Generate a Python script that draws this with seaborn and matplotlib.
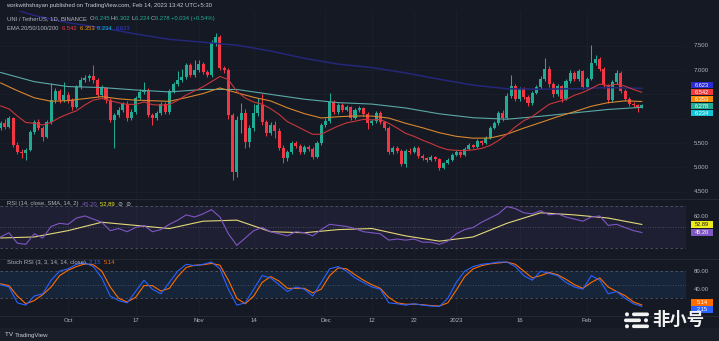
import numpy as np
import pandas as pd
import matplotlib
matplotlib.use("Agg")
import matplotlib.pyplot as plt
from matplotlib.patches import Rectangle, FancyBboxPatch, Circle
import seaborn as sns

# ---------------------------------------------------------------- data
dates = pd.date_range("2022-09-15", "2023-02-14", freq="D")

opens = [5.809, 5.912, 5.830, 6.014, 5.460, 5.316, 5.296, 5.357, 5.727, 5.932,
         5.809, 5.624, 5.932, 6.384, 6.569, 6.384, 6.487, 6.384, 6.240, 6.651,
         6.795, 6.836, 6.877, 6.795, 6.487, 6.630, 6.384, 5.973, 6.076, 6.179,
         6.302, 6.014, 6.138, 6.425, 6.548, 6.589, 6.076, 6.014, 6.117, 6.302,
         6.138, 6.569, 6.713, 6.795, 6.856, 7.103, 6.897, 7.000, 7.123, 6.959,
         6.897, 7.554, 7.678, 7.041, 7.000, 6.076, 4.906, 5.973, 6.117, 5.522,
         5.809, 6.117, 6.281, 5.932, 5.706, 5.871, 5.747, 5.398, 5.193, 5.316,
         5.501, 5.439, 5.316, 5.419, 5.378, 5.214, 5.501, 5.871, 5.952, 6.343,
         6.138, 6.281, 6.179, 6.240, 6.014, 6.179, 6.220, 6.097, 5.912, 5.952,
         6.117, 5.932, 5.809, 5.316, 5.398, 5.337, 5.070, 5.337, 5.316, 5.398,
         5.234, 5.193, 5.152, 5.214, 5.173, 4.988, 5.090, 5.152, 5.255, 5.316,
         5.255, 5.378, 5.460, 5.419, 5.542, 5.501, 5.604, 5.809, 5.912, 6.117,
         6.014, 6.466, 6.671, 6.405, 6.610, 6.446, 6.322, 6.528, 6.651, 6.815,
         7.021, 6.713, 6.507, 6.671, 6.405, 6.774, 6.938, 6.815, 6.979, 6.651,
         6.815, 7.144, 7.226, 7.021, 6.692, 6.384, 6.754, 6.938, 6.569, 6.405,
         6.302, 6.281, 6.245]
closes = [5.912, 5.830, 6.014, 5.460, 5.316, 5.296, 5.357, 5.727, 5.932, 5.809,
          5.624, 5.932, 6.384, 6.569, 6.384, 6.487, 6.384, 6.240, 6.651, 6.795,
          6.836, 6.877, 6.795, 6.487, 6.630, 6.384, 5.973, 6.076, 6.179, 6.302,
          6.014, 6.138, 6.425, 6.548, 6.589, 6.076, 6.014, 6.117, 6.302, 6.138,
          6.569, 6.713, 6.795, 6.856, 7.103, 6.897, 7.000, 7.123, 6.959, 6.897,
          7.554, 7.678, 7.041, 7.000, 6.076, 4.906, 5.973, 6.117, 5.522, 5.809,
          6.117, 6.281, 5.932, 5.706, 5.871, 5.747, 5.398, 5.193, 5.316, 5.501,
          5.439, 5.316, 5.419, 5.378, 5.214, 5.501, 5.871, 5.952, 6.343, 6.138,
          6.281, 6.179, 6.240, 6.014, 6.179, 6.220, 6.097, 5.912, 5.952, 6.117,
          5.932, 5.809, 5.316, 5.398, 5.337, 5.070, 5.337, 5.316, 5.398, 5.234,
          5.193, 5.152, 5.214, 5.173, 4.988, 5.090, 5.152, 5.255, 5.316, 5.255,
          5.378, 5.460, 5.419, 5.542, 5.501, 5.604, 5.809, 5.912, 6.117, 6.014,
          6.466, 6.671, 6.405, 6.610, 6.446, 6.322, 6.528, 6.651, 6.815, 7.021,
          6.713, 6.507, 6.671, 6.405, 6.774, 6.938, 6.815, 6.979, 6.651, 6.815,
          7.144, 7.226, 7.021, 6.692, 6.384, 6.754, 6.938, 6.569, 6.405, 6.302,
          6.281, 6.244, 6.278]
highs = [5.96, 5.99, 6.06, 6.04, 5.52, 5.38, 5.40, 5.77, 5.98, 5.99,
         5.85, 5.97, 6.73, 6.64, 6.62, 6.75, 6.54, 6.43, 6.70, 6.86,
         6.90, 6.92, 7.10, 6.83, 6.69, 6.66, 6.42, 6.12, 6.23, 6.35,
         6.36, 6.19, 6.47, 6.60, 6.75, 6.63, 6.12, 6.16, 6.35, 6.34,
         6.62, 6.76, 6.98, 7.02, 7.15, 7.14, 7.20, 7.21, 7.17, 7.00,
         7.62, 7.76, 7.72, 7.09, 7.04, 6.12, 6.05, 6.32, 6.19, 5.88,
         6.31, 6.42, 6.50, 5.98, 5.93, 5.96, 5.80, 5.45, 5.36, 5.55,
         5.55, 5.49, 5.46, 5.45, 5.41, 5.55, 5.92, 6.01, 6.52, 6.38,
         6.33, 6.32, 6.29, 6.27, 6.22, 6.26, 6.25, 6.13, 5.99, 6.16,
         6.15, 5.96, 5.84, 5.44, 5.43, 5.37, 5.38, 5.40, 5.44, 5.43,
         5.27, 5.22, 5.25, 5.24, 5.20, 5.12, 5.19, 5.29, 5.35, 5.34,
         5.41, 5.50, 5.49, 5.58, 5.57, 5.64, 5.85, 5.96, 6.16, 6.17,
         6.52, 6.90, 6.72, 6.66, 6.65, 6.48, 6.57, 6.70, 6.87, 7.25,
         7.08, 6.75, 6.72, 6.70, 6.82, 6.99, 6.98, 7.03, 7.01, 6.86,
         7.51, 7.30, 7.27, 7.06, 6.72, 6.80, 7.00, 6.97, 6.60, 6.44,
         6.34, 6.31, 6.302]
lows = [5.76, 5.79, 5.80, 5.42, 5.27, 5.19, 5.15, 5.33, 5.69, 5.77,
        5.55, 5.60, 5.90, 6.33, 6.33, 6.35, 6.33, 6.18, 6.21, 6.60,
        6.75, 6.78, 6.74, 6.44, 6.45, 6.32, 5.93, 5.40, 6.03, 6.14,
        5.96, 5.97, 6.10, 6.39, 6.50, 6.03, 5.87, 5.97, 6.08, 6.09,
        6.10, 6.53, 6.67, 6.75, 6.82, 6.85, 6.86, 6.95, 6.91, 6.85,
        6.86, 7.50, 6.99, 6.94, 6.00, 4.74, 4.80, 5.70, 5.40, 5.42,
        5.75, 6.05, 5.88, 5.65, 5.66, 5.60, 5.36, 5.10, 5.13, 5.28,
        5.40, 5.27, 5.28, 5.33, 5.17, 5.19, 5.47, 5.83, 5.92, 6.09,
        6.10, 6.14, 6.15, 5.97, 5.99, 6.14, 6.06, 5.79, 5.88, 5.92,
        5.89, 5.77, 5.27, 5.28, 5.30, 5.03, 5.00, 5.27, 5.29, 5.20,
        5.16, 5.12, 5.13, 5.14, 4.95, 4.97, 5.06, 5.13, 5.23, 5.22,
        5.24, 5.35, 5.39, 5.40, 5.47, 5.48, 5.58, 5.78, 5.88, 5.96,
        5.99, 6.42, 6.36, 6.37, 6.40, 6.27, 6.29, 6.50, 6.62, 6.78,
        6.66, 6.45, 6.47, 6.35, 6.38, 6.74, 6.77, 6.78, 6.60, 6.62,
        6.79, 7.10, 6.98, 6.64, 6.33, 6.35, 6.72, 6.52, 6.36, 6.26,
        6.23, 6.13, 6.224]

# moving averages, sampled every 2nd / 4th / 8th session
ema20 = [6.263, 6.202, 6.054, 5.922, 5.906, 5.871, 5.925, 6.024, 6.098, 6.163,
         6.282, 6.382, 6.414, 6.370, 6.326, 6.295, 6.294, 6.344, 6.289, 6.276,
         6.292, 6.376, 6.487, 6.571, 6.656, 6.762, 6.867, 6.803, 6.560, 6.423,
         6.341, 6.297, 6.206, 6.089, 5.938, 5.853, 5.765, 5.679, 5.682, 5.768,
         5.849, 5.914, 5.948, 5.986, 5.976, 5.984, 5.905, 5.807, 5.699, 5.638,
         5.560, 5.492, 5.417, 5.364, 5.350, 5.344, 5.361, 5.390, 5.449, 5.552,
         5.679, 5.833, 5.958, 6.044, 6.170, 6.295, 6.349, 6.394, 6.481, 6.540,
         6.621, 6.711, 6.678, 6.709, 6.668, 6.600, 6.542]
ema50 = [6.736, 6.575, 6.429, 6.358, 6.372, 6.412, 6.453, 6.408, 6.381, 6.369,
         6.357, 6.433, 6.516, 6.631, 6.533, 6.439, 6.365, 6.223, 6.104, 6.015,
         6.040, 6.056, 6.054, 6.013, 5.906, 5.814, 5.712, 5.638, 5.600, 5.603,
         5.682, 5.807, 5.922, 6.040, 6.144, 6.256, 6.330, 6.366, 6.353]
ema100 = [6.95, 6.76, 6.66, 6.64, 6.59, 6.55, 6.60, 6.60, 6.50, 6.40,
          6.33, 6.30, 6.22, 6.10, 6.02, 5.99, 6.05, 6.12, 6.19, 6.234]
ema200 = [8.33, 8.12, 7.97, 7.87, 7.74, 7.63, 7.57, 7.51, 7.39, 7.24,
          7.12, 7.05, 6.94, 6.81, 6.69, 6.615, 6.606, 6.615, 6.639, 6.623]

# RSI(14) every 2nd session and its 14-period SMA every 8th session
rsi = [41, 45, 35, 34, 44, 40, 51, 54, 53, 59,
       61, 58, 55, 47, 49, 46, 50, 52, 46, 48,
       53, 57, 62, 60, 63, 67, 60, 44, 33, 40,
       47, 50, 46, 44, 42, 46, 45, 42, 48, 53,
       52, 51, 49, 46, 45, 44, 38, 39, 38, 39,
       36, 36, 34, 37, 44, 48, 50, 55, 59, 63,
       70, 68, 64, 63, 66, 62, 63, 60, 58, 56,
       60, 61, 52, 53, 50, 47, 45.20]
rsi_ma = [40, 41, 47, 55, 52, 49, 56, 57, 46, 45,
          48, 49, 42, 37, 41, 54, 64, 62, 59, 52.89]

# Stoch RSI (3, 3, 14, 14) %K and %D every 2nd session
stoch_k = [50, 45, 10, 5, 25, 30, 60, 80, 85, 95,
           98, 90, 65, 25, 15, 10, 35, 60, 40, 30,
           55, 80, 95, 92, 95, 100, 85, 40, 5, 10,
           40, 70, 65, 50, 35, 45, 40, 25, 55, 85,
           90, 80, 65, 55, 45, 40, 10, 8, 5, 8,
           5, 3, 2, 20, 55, 80, 90, 95, 97, 100,
           100, 90, 70, 60, 80, 75, 70, 55, 45, 40,
           70, 60, 30, 35, 20, 8, 2.15]
stoch_d = [52, 48, 25, 8, 15, 28, 45, 70, 82, 90,
           96, 94, 80, 45, 20, 12, 22, 48, 48, 36,
           42, 68, 88, 93, 94, 97, 93, 60, 20, 8,
           25, 55, 68, 58, 42, 42, 42, 32, 40, 70,
           87, 85, 72, 60, 50, 42, 22, 10, 7, 7,
           6, 4, 3, 10, 38, 68, 85, 92, 96, 98,
           100, 95, 80, 65, 70, 77, 72, 62, 50, 42,
           55, 65, 45, 35, 26, 12, 5.14]

tick_dates = ["2022-10-01", "2022-10-17", "2022-11-01", "2022-11-14", "2022-12-01",
              "2022-12-12", "2022-12-22", "2023-01-01", "2023-01-16", "2023-02-01"]
tick_labels = ["Oct", "17", "Nov", "14", "Dec", "12", "22", "2023", "16", "Feb"]
price_ticks = [7.5, 7.0, 6.5, 6.0, 5.5, 5.0, 4.5]

# ---------------------------------------------------------------- style
W, H = 719, 341
BG = "#151924"
GRID = "#1c202b"
TXT = "#b2b5be"
UP, DN = "#22ab94", "#f23645"
C_E20, C_E50, C_E100, C_E200 = "#c8373c", "#d9862e", "#5aa9a7", "#24277a"
C_RSI, C_RSIMA = "#7e57c2", "#e3d878"
C_K, C_D = "#2962ff", "#ff6d00"

sns.set_theme(style="dark", rc={
    "axes.facecolor": BG, "figure.facecolor": BG, "savefig.facecolor": BG,
    "axes.edgecolor": BG, "axes.grid": False,
})
plt.rcParams["font.family"] = ["Liberation Sans", "DejaVu Sans", "Noto Sans CJK SC"]

fig = plt.figure(figsize=(W / 100, H / 100), dpi=100)

pos = np.arange(len(dates))
date_pos = {d.strftime("%Y-%m-%d"): i for i, d in enumerate(dates)}
XLIM = (-0.12, 162.44)


def pane(top, bottom, left=0, right=686):
    ax = fig.add_axes([left / W, 1 - bottom / H, (right - left) / W, (bottom - top) / H])
    ax.set_facecolor(BG)
    for s in ax.spines.values():
        s.set_visible(False)
    return ax


ax_main = pane(11, 198)
ax_rsi = pane(199, 258)
ax_st = pane(258.5, 315)

tick_pos = [date_pos[d] for d in tick_dates]
for ax in (ax_main, ax_rsi, ax_st):
    for p in tick_pos:
        ax.axvline(p, color=GRID, lw=0.6, zorder=0)
for p in price_ticks:
    ax_main.axhline(p, color=GRID, lw=0.6, zorder=0)

# ---------------------------------------------------------------- candles
o, c = np.array(opens), np.array(closes)
h, l = np.array(highs), np.array(lows)
col = np.where(c >= o, UP, DN)
ax_main.vlines(pos, l, h, colors=col, lw=0.75, zorder=3)
ax_main.bar(pos, np.maximum(np.abs(c - o), 0.02), bottom=np.minimum(o, c),
            width=0.72, color=col, lw=0, zorder=4)

for vals, step, color, lw in ((ema200, 8, C_E200, 1.1), (ema100, 8, C_E100, 0.8),
                              (ema50, 4, C_E50, 0.8), (ema20, 2, C_E20, 0.8)):
    sns.lineplot(x=pos[::step], y=vals, ax=ax_main, color=color, linewidth=lw,
                 legend=False, zorder=5)

# ---------------------------------------------------------------- RSI pane
ax_rsi.axhspan(30, 70, color="#7e57c2", alpha=0.10, lw=0, zorder=0)
for lvl, ls in ((70, (0, (3, 3))), (50, (0, (1, 2))), (30, (0, (3, 3)))):
    ax_rsi.axhline(lvl, color="#787b86", lw=0.6, ls=ls, alpha=0.6, zorder=1)
sns.lineplot(x=pos[::8], y=rsi_ma, ax=ax_rsi, color=C_RSIMA, linewidth=0.8, legend=False, zorder=3)
sns.lineplot(x=pos[::2], y=rsi, ax=ax_rsi, color=C_RSI, linewidth=0.8, legend=False, zorder=4)

# ---------------------------------------------------------------- Stoch RSI pane
ax_st.axhspan(20, 80, color="#2196f3", alpha=0.10, lw=0, zorder=0)
for lvl, ls in ((80, (0, (3, 3))), (50, (0, (1, 2))), (20, (0, (3, 3)))):
    ax_st.axhline(lvl, color="#787b86", lw=0.6, ls=ls, alpha=0.6, zorder=1)
sns.lineplot(x=pos[::2], y=stoch_d, ax=ax_st, color=C_D, linewidth=0.8, legend=False, zorder=3)
sns.lineplot(x=pos[::2], y=stoch_k, ax=ax_st, color=C_K, linewidth=0.8, legend=False, zorder=4)

ax_main.set_ylim(4.3717, 8.2115)
ax_rsi.set_ylim(20.95, 77.14)
ax_st.set_ylim(-16.8, 107.8)
for ax in (ax_main, ax_rsi, ax_st):
    ax.set_xlim(*XLIM)
    ax.set_xticks([])
    ax.set_yticks([])
    ax.set_xlabel("")
    ax.set_ylabel("")

# ---------------------------------------------------------------- overlay (pixel units)
ov = fig.add_axes([0, 0, 1, 1], zorder=20)
ov.set_xlim(0, W)
ov.set_ylim(H, 0)
ov.axis("off")
ov.patch.set_alpha(0)
renderer = fig.canvas.get_renderer()

# pane separators and bottom bar
for y in (198.5, 258.5, 315.5):
    ov.plot([0, W], [y, y], color="#262a36", lw=0.7)
ov.add_patch(Rectangle((0, 327.5), W, H - 327.5, color="#1a1e29", lw=0))


def ypx(ax, v):
    return H - ax.transData.transform((0, v))[1]


def xpx(ax, v):
    return ax.transData.transform((v, 0))[0]


def segments(x, y, parts, size=4.2):
    for txt, color in parts:
        t = ov.text(x, y, txt, color=color, fontsize=size, ha="left", va="center")
        x += t.get_window_extent(renderer).width


def stacked(ys, gap):
    ys = np.asarray(ys, float)
    order = np.argsort(ys)
    s = ys[order].copy()
    for k in range(1, len(s)):
        s[k] = max(s[k], s[k - 1] + gap)
    s += ys.mean() - s.mean()
    out = ys.copy()
    out[order] = s
    return out


TAG_H = 6.6


def tag(y, text, bg, fg="white", x0=691, w=22, size=4.1):
    ov.add_patch(Rectangle((x0, y - TAG_H / 2), w, TAG_H, color=bg, lw=0, zorder=5))
    ov.text(x0 + w / 2, y + 0.2, text, color=fg, fontsize=size, ha="center",
            va="center", zorder=6)


def scale_labels(ax, values, fmt, tag_ys):
    # a scale label hidden under a value tag is left out, as on the live chart
    for v in values:
        y = ypx(ax, v)
        if any(abs(y - ty) < TAG_H for ty in tag_ys):
            continue
        ov.text(701, y, fmt.format(v), color=TXT, fontsize=4.3, ha="center", va="center")


# last-value tags
main_tags = [(ema200[-1], "#2b2bd4", "white"), (ema20[-1], "#ef3b3b", "white"),
             (ema50[-1], "#f98b0c", "white"), (closes[-1], UP, "white"),
             (ema100[-1], "#14c3d6", "white")]
main_ys = stacked([ypx(ax_main, v) for v, _, _ in main_tags], 7.0)
for y, (v, bg, fg) in zip(main_ys, main_tags):
    tag(y, f"{v:.3f}", bg, fg)

rsi_tags = [(rsi_ma[-1], "#ecea1c", "#131722"), (rsi[-1], C_RSI, "white")]
rsi_ys = stacked([ypx(ax_rsi, v) for v, _, _ in rsi_tags], 7.0)
for y, (v, bg, fg) in zip(rsi_ys, rsi_tags):
    tag(y, f"{v:.2f}", bg, fg)

st_tags = [(stoch_d[-1], C_D, "white"), (stoch_k[-1], C_K, "white")]
st_ys = stacked([ypx(ax_st, v) for v, _, _ in st_tags], 7.0)
for y, (v, bg, fg) in zip(st_ys, st_tags):
    tag(y, f"{v:.2f}", bg, fg)

# price-scale labels
scale_labels(ax_main, price_ticks, "{:.3f}", main_ys)
scale_labels(ax_rsi, (60, 40), "{:.2f}", rsi_ys)
scale_labels(ax_st, (80, 40), "{:.2f}", st_ys)

# time-scale labels
for p, lab in zip(tick_pos, tick_labels):
    ov.text(xpx(ax_main, p), 321, lab, color=TXT, fontsize=4.3, ha="center", va="center")

# legends
segments(6, 5, [("workwithshayan published on TradingView.com, Feb 14, 2023 13:42 UTC+5:30", "#c9ccd3")])
chg = closes[-1] - closes[-2]
segments(7, 18.5, [("UNI / TetherUS, 1D, BINANCE  ", TXT),
                   ("O", TXT), (f"{opens[-1]:.3f} ", UP),
                   ("H", TXT), (f"{highs[-1]:.3f} ", UP),
                   ("L", TXT), (f"{lows[-1]:.3f} ", UP),
                   ("C", TXT), (f"{closes[-1]:.3f} ", UP),
                   (f"+{chg:.3f} (+{chg / closes[-2] * 100:.2f}%)", UP)])
segments(7, 29, [("EMA 20/50/100/200  ", TXT), (f"{ema20[-1]:.3f}  ", "#f23645"),
                 (f"{ema50[-1]:.3f}  ", "#ff9800"), (f"{ema100[-1]:.3f}  ", "#00bcd4"),
                 (f"{ema200[-1]:.3f}", "#2f3fd0")])
segments(7, 204, [("RSI (14, close, SMA, 14, 2)  ", TXT), (f"{rsi[-1]:.2f}  ", C_RSI),
                  (f"{rsi_ma[-1]:.2f}  ", "#ecea1c"), ("⊘  ⊘", TXT)])
segments(7, 262.5, [("Stoch RSI (3, 3, 14, 14, close)  ", TXT), (f"{stoch_k[-1]:.2f}  ", C_K),
                    (f"{stoch_d[-1]:.2f}", C_D)])

# footer brand
segments(5, 335, [("TV ", "#d1d4dc")], size=4.6)
ov.text(15, 335, "TradingView", color="#c9ccd3", fontsize=4.4, ha="left", va="center")

# watermark badge
WM = "#f2f2f2"
for (bx, by, bw) in ((632, 312.5, 17), (624, 318.5, 17), (632, 324.5, 17)):
    ov.add_patch(FancyBboxPatch((bx, by), bw, 3.6, boxstyle="round,pad=0,rounding_size=1.8",
                                color=WM, lw=0, zorder=8))
for (cx, cy) in ((627, 314.3), (646, 320.3), (627, 326.3)):
    ov.add_patch(Circle((cx, cy), 2.0, color=WM, lw=0, zorder=8))
ov.text(652, 320, "非小号", color=WM, fontsize=12.5, fontweight="bold",
        family=["Noto Sans CJK SC"], ha="left", va="center", zorder=8)

fig.savefig("out.png", dpi=100, facecolor=BG)
